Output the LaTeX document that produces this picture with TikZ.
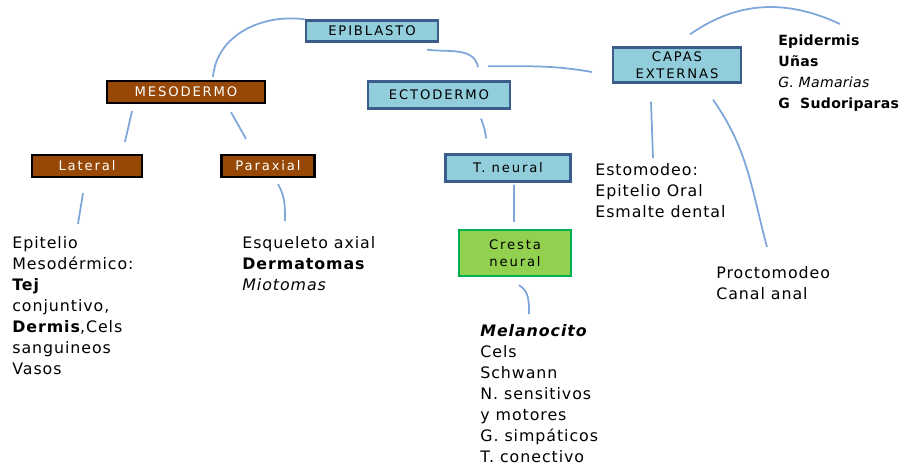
\documentclass[tikz,border=0pt]{standalone}
\usepackage{fontspec}
\setmainfont{DejaVu Sans}
\usepackage{tikz}
\usetikzlibrary{arrows,positioning,calc}

\definecolor{boxblue}{HTML}{92CDDC}
\definecolor{edgeblue}{HTML}{3B5D8C}
\definecolor{boxbrown}{HTML}{974806}
\definecolor{boxgreen}{HTML}{92D050}
\definecolor{edgegreen}{HTML}{00B050}
\definecolor{linkblue}{HTML}{7EA6D9}

\begin{document}
\begin{tikzpicture}[x=0.02cm,y=-0.02cm,
    box/.style={draw,line width=1.3pt,inner sep=1pt,
      font=\fontsize{7.5}{10}\selectfont\addfontfeature{LetterSpace=14}},
    blue box/.style={box,fill=boxblue,draw=edgeblue,text=black},
    brown box/.style={box,fill=boxbrown,draw=black,text=white},
    green box/.style={box,fill=boxgreen,draw=edgegreen,text=black},
    note/.style={anchor=north west,inner sep=0pt,align=left,
      font=\fontsize{9}{11.95}\selectfont\addfontfeature{LetterSpace=6}},
    small note/.style={note,font=\fontsize{8}{11.95}\selectfont\addfontfeature{LetterSpace=2}},
    link/.style={draw=linkblue,line width=1pt}]
  \useasboundingbox (0,0) rectangle (919,467);

  % boxes
  \node[blue box, minimum width=2.64cm, minimum height=0.42cm] (epiblasto) at (372,31) {EPIBLASTO};
  \node[brown box, minimum width=3.16cm, minimum height=0.44cm] (mesodermo) at (186,92) {MESODERMO};
  \node[brown box, minimum width=2.2cm, minimum height=0.44cm] (lateral) at (87,166) {Lateral};
  \node[brown box, minimum width=1.86cm, minimum height=0.44cm] (paraxial) at (268,166) {Paraxial};
  \node[blue box, minimum width=2.84cm, minimum height=0.54cm] (ectodermo) at (439,95) {ECTODERMO};
  \node[blue box, minimum width=2.56cm, minimum height=0.7cm, align=center] (capas) at (677,65) {CAPAS\\EXTERNAS};
  \node[blue box, minimum width=2.5cm, minimum height=0.54cm] (tneural) at (508,168) {T. neural};
  \node[green box, minimum width=2.24cm, minimum height=0.92cm, align=center] (cresta) at (515,253) {Cresta\\neural};

  % texts
  \node[note] (epitel) at (12,236) {Epitelio\\Mesodérmico:\\\textbf{Tej}\\conjuntivo,\\\textbf{Dermis},Cels\\sanguineos\\Vasos};
  \node[note] (esquel) at (242,236) {Esqueleto axial\\\textbf{Dermatomas}\\ \textit{Miotomas}};
  \node[note] (estom) at (595,163) {Estomodeo:\\Epitelio Oral\\Esmalte dental};
  \node[small note] (epid) at (778,34) {\textbf{Epidermis}\\\textbf{Uñas}\\\textit{G. Mamarias}\\\textbf{G\ \ Sudoriparas}};
  \node[note] (procto) at (716,266) {Proctomodeo\\Canal anal};
  \node[note] (melan) at (480,324) {\textbf{\textit{Melanocito}}\\ Cels\\Schwann\\N. sensitivos\\y motores\\G. simpáticos\\T. conectivo};

  % connectors
  \draw[link] (epiblasto.north west) to[out=172,in=85] ([xshift=0.54cm,yshift=0.06cm]mesodermo.north);
  \draw[link] ([xshift=1.1cm,yshift=-0.14cm]epiblasto.south) to[out=-8,in=100] ([xshift=0.78cm,yshift=0.26cm]ectodermo.north);
  \draw[link] ([xshift=0.98cm,yshift=0.28cm]ectodermo.north) to[out=0,in=170] ([xshift=-0.4cm,yshift=-0.14cm]capas.west);
  \draw[link] ([xshift=0.26cm,yshift=0.24cm]capas.north) to[out=35,in=155] ([xshift=1.24cm,yshift=0.2cm]epid.north west);
  \draw[link] ([xshift=-0.52cm,yshift=-0.36cm]capas.south) to ([xshift=1.16cm,yshift=0.1cm]estom.north west);
  \draw[link] ([xshift=0.72cm,yshift=-0.32cm]capas.south) to[out=-55,in=105] ([xshift=1.02cm,yshift=0.38cm]procto.north west);
  \draw[link] ([xshift=-1.08cm,yshift=-0.14cm]mesodermo.south) to ([xshift=0.76cm,yshift=0.24cm]lateral.north);
  \draw[link] ([xshift=0.9cm,yshift=-0.16cm]mesodermo.south) to ([xshift=-0.44cm,yshift=0.3cm]paraxial.north);
  \draw[link] ([xshift=-0.08cm,yshift=-0.3cm]lateral.south) to ([xshift=1.32cm,yshift=0.24cm]epitel.north west);
  \draw[link] ([xshift=0.2cm,yshift=-0.12cm]paraxial.south) to[out=-60,in=90] ([xshift=0.86cm,yshift=0.3cm]esquel.north west);
  \draw[link] ([xshift=0.84cm,yshift=-0.18cm]ectodermo.south) to[out=-70,in=95] ([xshift=-0.44cm,yshift=0.3cm]tneural.north);
  \draw[link] ([xshift=0.12cm,yshift=-0.04cm]tneural.south) to ([xshift=-0.02cm,yshift=0.14cm]cresta.north);
  \draw[link] ([xshift=0.08cm,yshift=-0.16cm]cresta.south) to[out=-30,in=90] ([xshift=0.98cm,yshift=0.2cm]melan.north west);
\end{tikzpicture}
\end{document}
